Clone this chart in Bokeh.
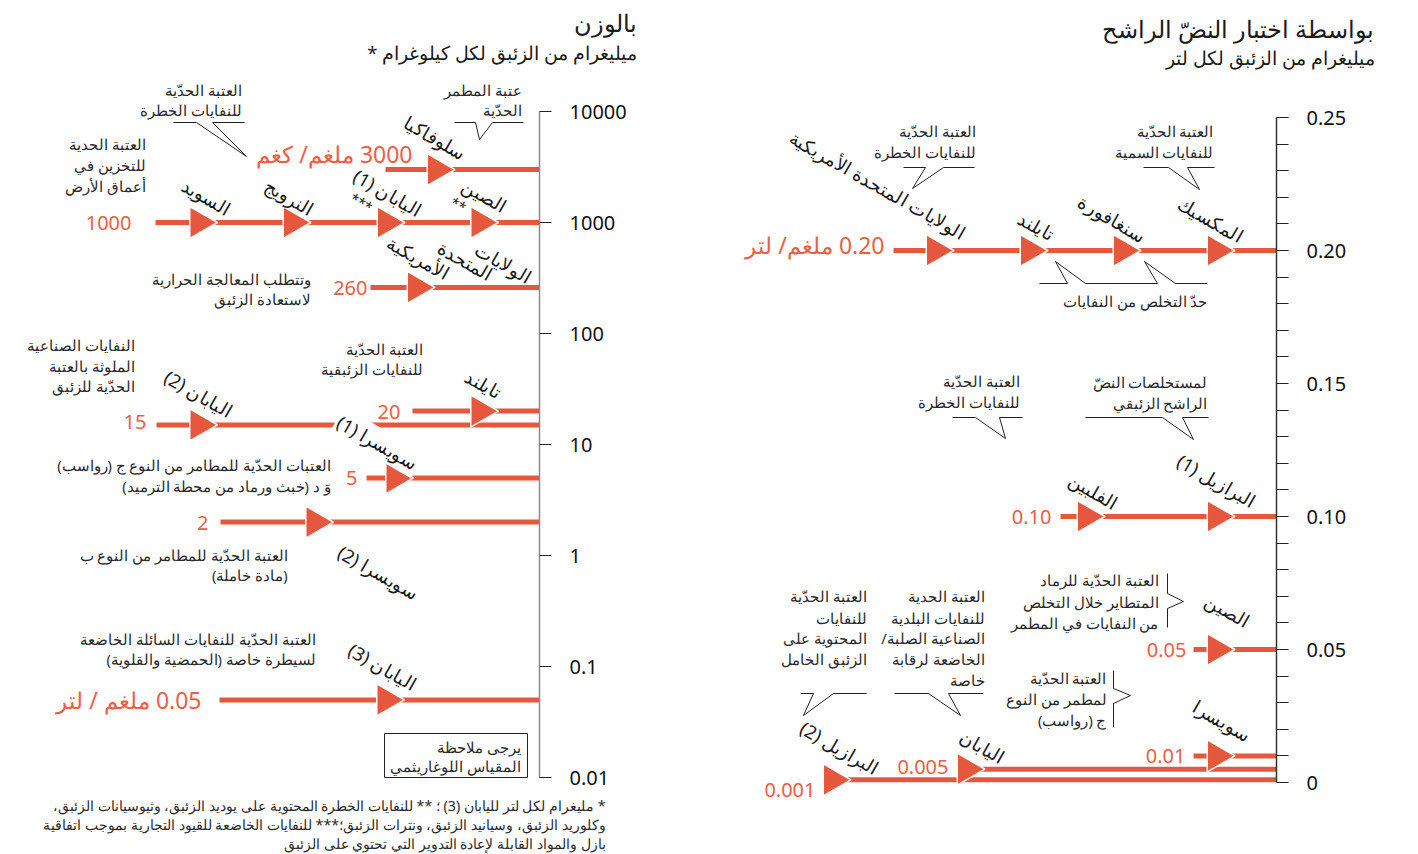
import math
from bokeh.plotting import figure
from bokeh.models import (Range1d, LogScale, LinearScale, LogAxis, LinearAxis,
                          FixedTicker, ColumnDataSource)
from bokeh.core.properties import value
from bokeh.embed import file_html
from bokeh.resources import INLINE

# ---------------- DATA ----------------
# Left panel: by weight, mg of mercury per kg (log scale)
left_tick_values = [0.01, 0.1, 1, 10, 100, 1000, 10000]
left_tick_labels = ["0.01", "0.1", "1", "10", "100", "1000", "10000"]
left_row_values = [3000, 1000, 260, 20, 15, 5, 2, 0.05]
left_row_labels = ["3000 ملغم/ كغم", "1000", "260", "20", "15", "5", "2", "0.05  ملغم / لتر"]
left_arrow_values = [3000, 1000, 1000, 1000, 1000, 260, 20, 15, 5, 2, 0.05]
left_arrow_countries = ["سلوفاكيا", "السويد", "النرويج", "اليابان (1)", "الصين",
                        "الولايات المتحدة الأمريكية", "تايلند", "اليابان (2)",
                        "سويسرا (1)", "سويسرا (2)", "اليابان (3)"]

# Right panel: by leaching test, mg of mercury per litre (linear scale)
right_tick_values = [0, 0.05, 0.10, 0.15, 0.20, 0.25]
right_tick_labels = ["0", "0.05", "0.10", "0.15", "0.20", "0.25"]
right_minor_values = [0.01, 0.02, 0.03, 0.04, 0.06, 0.07, 0.08, 0.09, 0.11, 0.12, 0.13,
                      0.14, 0.16, 0.17, 0.18, 0.19, 0.21, 0.22, 0.23, 0.24]
right_row_values = [0.20, 0.10, 0.05, 0.01, 0.005, 0.001]
right_row_labels = ["0.20 ملغم/ لتر", "0.10", "0.05", "0.01", "0.005", "0.001"]
right_arrow_values = [0.20, 0.20, 0.20, 0.20, 0.10, 0.10, 0.05, 0.01, 0.005, 0.001]
right_arrow_countries = ["الولايات المتحدة الأمريكية", "تايلند", "سنغافورة", "المكسيك",
                         "الفلبين", "البرازيل (1)", "الصين", "سويسرا", "اليابان", "البرازيل (2)"]

title_left = "بالوزن"
subtitle_left = "ميليغرام من الزئبق لكل كيلوغرام *"
title_right = "بواسطة اختبار النضّ الراشح"
subtitle_right = "ميليغرام من الزئبق لكل لتر"

# ---------------- LAYOUT (page pixels) ----------------
W, H = 1418, 854
TOP, BOT = 0, H
AX_L, AX_R = 539, 1276
left_row_start = [385, 155, 370, 412, 156, 366, 220, 219]
left_row_label_x = [412, 131, 367, 400, 146, 357, 208, 207]
left_row_label_dy = [-16, 0, 0, 0, -3, 0, 0, 0]
left_row_label_size = ["23px", "20px", "20px", "20px", "20px", "20px", "20px", "23px"]
left_arrow_x = [436, 198.5, 292, 386, 479.5, 416, 479.5, 198.5, 394.5, 314.5, 385.5]

right_row_start = [893, 1060, 1193, 1193, 957, 823]
right_row_label_x = [884, 1051, 1186, 1185, 948, 815]
right_row_label_dy = [-6, 0, 0, 0, -3, 10]
right_row_label_size = ["23px", "20px", "20px", "20px", "20px", "20px"]
right_arrow_x = [935, 1029, 1122, 1216, 1086, 1216, 1216, 1216, 966, 832]

ORANGE = "#E6583D"
ORANGE_TXT = "#EA5F44"
INK = "#1a1a1a"
FONT = "Noto Sans"

RLE, PDF = "\u202b", "\u202c"
def rtl(s):
    return RLE + s + PDF

# log range mapping: 111 px per decade, 0.01 at y=777
dec = 111.0
log_lo = -2 - (BOT - 777) / dec
log_hi = 4 + (111 - TOP) / dec
# linear mapping: 0 at y=782, 0.25 at y=117
ppu = (782 - 117) / 0.25
lin_lo = -(BOT - 782) / ppu
lin_hi = 0.25 + (117 - TOP) / ppu

p = figure(width=W, height=H, output_backend="svg", toolbar_location=None,
           x_range=Range1d(0, W), y_range=Range1d(BOT, TOP),
           x_axis_type=None, y_axis_type=None, min_border=0)
p.outline_line_color = None
p.extra_y_ranges = {"log": Range1d(10 ** log_lo, 10 ** log_hi), "lin": Range1d(lin_lo, lin_hi)}
p.extra_y_scales = {"log": LogScale(), "lin": LinearScale()}

# ---------------- AXES ----------------
axl = LogAxis(y_range_name="log", fixed_location=AX_L,
              ticker=FixedTicker(ticks=left_tick_values, minor_ticks=[]),
              major_label_overrides={v: l for v, l in zip(left_tick_values, left_tick_labels)},
              bounds=(left_tick_values[0], left_tick_values[-1]))
axr = LinearAxis(y_range_name="lin", fixed_location=AX_R,
                 ticker=FixedTicker(ticks=right_tick_values, minor_ticks=right_minor_values),
                 major_label_overrides={v: l for v, l in zip(right_tick_values, right_tick_labels)},
                 bounds=(right_tick_values[0], right_tick_values[-1]))
for ax, col in ((axl, "#8a8a8a"), (axr, "#333333")):
    ax.axis_line_color = col
    ax.axis_line_width = 1.5
    ax.major_tick_line_color = "#222222"
    ax.minor_tick_line_color = "#222222"
    ax.major_tick_out = 12
    ax.major_tick_in = 0
    ax.minor_tick_out = 12
    ax.minor_tick_in = 0
    ax.major_label_standoff = 18
    ax.major_label_text_font = FONT
    ax.major_label_text_font_size = "20px"
    ax.major_label_text_color = "#111111"
    p.add_layout(ax, "right")

# ---------------- THRESHOLD LINES ----------------
p.segment(x0=left_row_start, y0=left_row_values, x1=[AX_L] * len(left_row_values),
          y1=left_row_values, y_range_name="log", line_color=ORANGE, line_width=5, line_cap="butt")
p.segment(x0=right_row_start, y0=right_row_values, x1=[AX_R] * len(right_row_values),
          y1=right_row_values, y_range_name="lin", line_color=ORANGE, line_width=5, line_cap="butt")

p.scatter(x=left_arrow_x, y=left_arrow_values, y_range_name="log", marker="triangle",
          size=32, angle=-math.pi / 2, fill_color=ORANGE, line_color="white", line_width=1.5)
p.scatter(x=right_arrow_x, y=right_arrow_values, y_range_name="lin", marker="triangle",
          size=32, angle=-math.pi / 2, fill_color=ORANGE, line_color="white", line_width=1.5)

# value labels
src_lv = ColumnDataSource(dict(x=left_row_label_x, y=left_row_values, dy=left_row_label_dy,
                               t=[rtl(s) for s in left_row_labels], fs=left_row_label_size))
p.text(x="x", y="y", y_offset="dy", text="t", source=src_lv, y_range_name="log",
       text_font=value(FONT), text_font_size="fs", text_color=ORANGE_TXT,
       text_align="right", text_baseline="middle")
src_rv = ColumnDataSource(dict(x=right_row_label_x, y=right_row_values, dy=right_row_label_dy,
                               t=[rtl(s) for s in right_row_labels], fs=right_row_label_size))
p.text(x="x", y="y", y_offset="dy", text="t", source=src_rv, y_range_name="lin",
       text_font=value(FONT), text_font_size="fs", text_color=ORANGE_TXT,
       text_align="right", text_baseline="middle")

# ---------------- COUNTRY LABELS (rotated) ----------------
ANG = -0.52
cl = [  # (text, cx, cy)
    (left_arrow_countries[0], 435, 137),
    (left_arrow_countries[1], 206, 196),
    (left_arrow_countries[2], 289, 196),
    (left_arrow_countries[3], 387, 192),
    (left_arrow_countries[4], 484, 195),
    ("الولايات", 503, 262), ("المتحدة", 465, 260), ("الأمريكية", 418, 257),
    (left_arrow_countries[6], 483, 383),
    (left_arrow_countries[7], 198, 393),
    (left_arrow_countries[9], 378, 572),
    (left_arrow_countries[10], 382, 666),
    (right_arrow_countries[0], 877, 184),
    (right_arrow_countries[1], 1036, 225),
    (right_arrow_countries[2], 1112, 218),
    (right_arrow_countries[3], 1210, 219),
    (right_arrow_countries[4], 1093, 490),
    (right_arrow_countries[5], 1216, 480),
    (right_arrow_countries[6], 1227, 610),
    (right_arrow_countries[7], 1222, 720),
    (right_arrow_countries[8], 982, 746),
    (right_arrow_countries[9], 839, 747),
]
src_c = ColumnDataSource(dict(x=[c[1] for c in cl], y=[c[2] for c in cl], t=[rtl(c[0]) for c in cl]))
p.text(x="x", y="y", text="t", source=src_c, angle=ANG, text_font=value(FONT),
       text_font_size="18.5px", text_color=INK, text_align="center", text_baseline="middle")
# label crossing the 15 line, with white halo
p.text(x=[377], y=[442], text=[rtl(left_arrow_countries[8])], angle=ANG, text_font=value(FONT),
       text_font_size="18.5px", text_color=INK, text_align="center", text_baseline="middle",
       background_fill_color="white", padding=2)
# footnote markers
p.text(x=[361, 458], y=[202, 204], text=["***", "**"], angle=ANG, text_font=value(FONT),
       text_font_size="14px", text_color=INK, text_align="center", text_baseline="middle")

# ---------------- ANNOTATIONS ----------------
notes = [
    (241, 89, "العتبة الحدّية"), (241, 109, "للنفايات الخطرة"),
    (521, 89, "عتبة المطمر"), (521, 109, "الحدّية"),
    (145, 143, "العتبة الحدية"), (145, 164, "للتخزين في"), (145, 185, "أعماق الأرض"),
    (310, 278, "وتتطلب المعالجة الحرارية"), (310, 298, "لاستعادة الزئبق"),
    (134, 344, "النفايات الصناعية"), (134, 365, "الملوثة بالعتبة"), (134, 385, "الحدّية للزئبق"),
    (422, 348, "العتبة الحدّية"), (422, 368, "للنفايات الزئبقية"),
    (330, 464, "العتبات الحدّية للمطامر من النوع ج (رواسب)"),
    (330, 485, "وَ د (خبث ورماد من محطة الترميد)"),
    (287, 554, "العتبة الحدّية للمطامر من النوع ب"), (287, 574, "(مادة خاملة)"),
    (315, 638, "العتبة الحدّية للنفايات السائلة الخاضعة"), (315, 658, "لسيطرة خاصة (الحمضية والقلوية)"),
    (520, 746, "يرجى ملاحظة"), (520, 765, "المقياس اللوغاريثمي"),
    (975, 130, "العتبة الحدّية"), (975, 151, "للنفايات الخطرة"),
    (1213, 130, "العتبة الحدّية"), (1213, 151, "للنفايات السمية"),
    (1207, 300, "حدّ التخلص من النفايات"),
    (1019, 380, "العتبة الحدّية"), (1019, 401, "للنفايات الخطرة"),
    (1207, 381, "لمستخلصات النضّ"), (1207, 402, "الراشح الزئبقي"),
    (1158, 579, "العتبة الحدّية للرماد"), (1158, 601, "المتطاير خلال التخلص"),
    (1158, 622, "من النفايات في المطمر"),
    (866, 595, "العتبة الحدّية"), (866, 617, "للنفايات"), (866, 637, "المحتوية على"),
    (866, 658, "الزئبق الخامل"),
    (984, 595, "العتبة الحدية"), (984, 617, "للنفايات البلدية"), (984, 637, "الصناعية الصلبة/"),
    (984, 658, "الخاضعة لرقابة"), (984, 679, "خاصة"),
    (1106, 677, "العتبة الحدّية"), (1106, 698, "لمطمر من النوع"), (1106, 719, "ج (رواسب)"),
]
src_n = ColumnDataSource(dict(x=[n[0] for n in notes], y=[n[1] for n in notes], t=[rtl(n[2]) for n in notes]))
p.text(x="x", y="y", text="t", source=src_n, text_font=value(FONT), text_font_size="14.5px",
       text_color="#2a2a2a", text_align="right", text_baseline="middle")

foot = [
    (605, 805, "* مليغرام لكل لتر لليابان (3) ؛ ** للنفايات الخطرة المحتوية على يوديد الزئبق، وثيوسيانات الزئبق،"),
    (605, 824, "وكلوريد الزئبق، وسيانيد الزئبق، ونترات الزئبق؛*** للنفايات الخاضعة للقيود التجارية بموجب اتفاقية"),
    (605, 843, "بازل والمواد القابلة لإعادة التدوير التي تحتوي على الزئبق"),
]
p.text(x=[f[0] for f in foot], y=[f[1] for f in foot], text=[rtl(f[2]) for f in foot],
       text_font=value(FONT), text_font_size="14.2px", text_color="#2a2a2a",
       text_align="right", text_baseline="middle")

# titles
p.text(x=[636, 1374], y=[22, 28], text=[rtl(title_left), rtl(title_right)], text_font=value(FONT),
       text_font_size="24px", text_color=INK, text_align="right", text_baseline="middle")
p.text(x=[636, 1374], y=[52, 57], text=[rtl(subtitle_left), rtl(subtitle_right)], text_font=value(FONT),
       text_font_size="18.5px", text_color=INK, text_align="right", text_baseline="middle")

# callouts and braces
shapes = [
    [(173, 122), (196, 122), (246, 156), (212, 122), (244, 122)],
    [(454, 122), (475, 122), (479, 139), (492, 122), (523, 122)],
    [(903, 167), (925, 167), (912, 188), (943, 167), (974, 167)],
    [(1143, 167), (1168, 167), (1199, 189), (1187, 167), (1214, 167)],
    [(1039, 283), (1067, 283), (1055, 261), (1085, 283), (1157, 283), (1144, 261), (1175, 283), (1207, 283)],
    [(952, 417), (975, 417), (1005, 438), (999, 417), (1022, 417)],
    [(1085, 417), (1162, 417), (1193, 439), (1182, 417), (1208, 417)],
    [(800, 693), (813, 693), (803, 715), (833, 693), (866, 693)],
    [(894, 693), (928, 693), (960, 715), (948, 693), (983, 693)],
    [(1167, 573), (1167, 593), (1183, 601), (1167, 608), (1167, 627)],
    [(1113, 670), (1113, 688), (1130, 695), (1113, 703), (1113, 727)],
]
p.multi_line(xs=[[q[0] for q in s] for s in shapes], ys=[[q[1] for q in s] for s in shapes],
             line_color="#222222", line_width=1)
# log-scale note box
p.quad(left=[384], right=[527], top=[733], bottom=[777], fill_color=None,
       line_color="#222222", line_width=1)

open("out.html", "w").write(file_html(p, INLINE))
